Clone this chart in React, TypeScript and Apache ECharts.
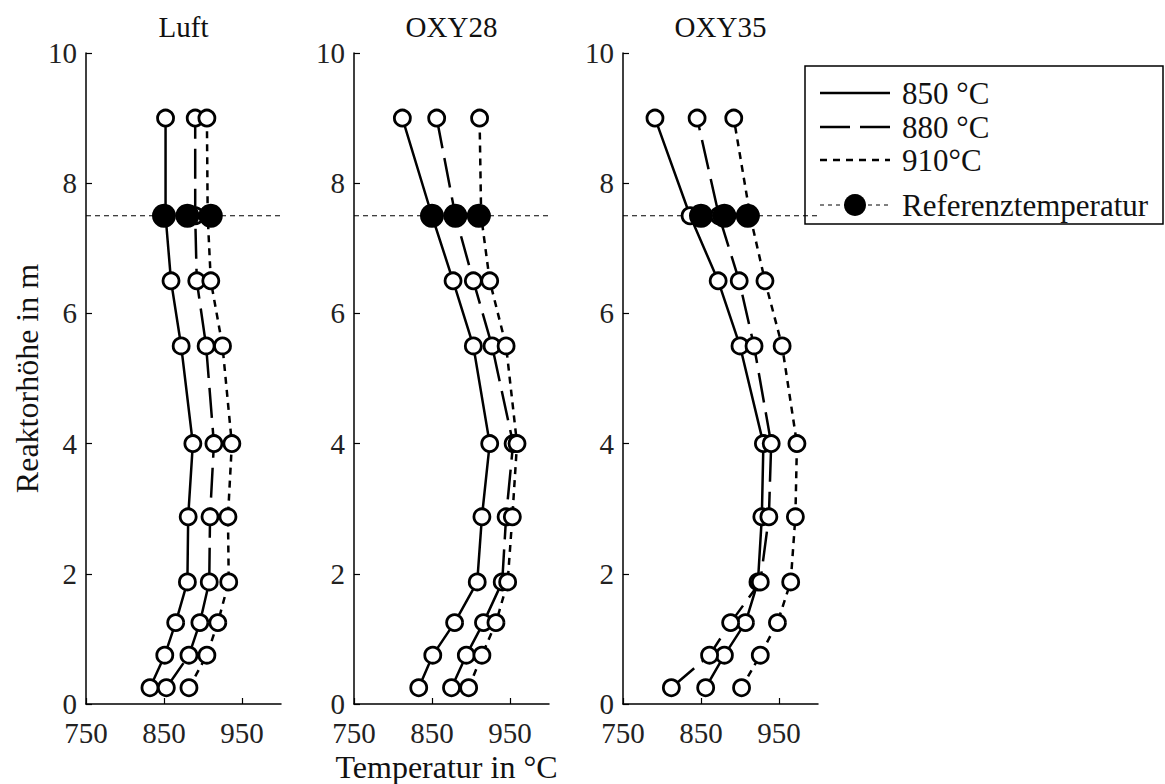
import React, { useEffect, useRef } from "react";
import * as echarts from "echarts";

const heights = [0.25, 0.75, 1.25, 1.875, 2.875, 4, 5.5, 6.5, 7.5, 9];

const panelTitles = ["Luft", "OXY28", "OXY35"];

const luft850 = [832, 851, 865, 880, 881, 887, 872, 859, 852, 852];
const luft880 = [853, 882, 896, 908, 909, 914, 904, 892, 890, 890];
const luft910 = [882, 905, 919, 933, 932, 937, 925, 910, 906, 905];

const oxy28_850 = [833, 851, 879, 908, 914, 924, 903, 877, 850, 812];
const oxy28_880 = [875, 894, 916, 940, 945, 954, 927, 903, 880, 856];
const oxy28_910 = [897, 914, 932, 947, 953, 959, 945, 924, 913, 911];

const oxy35_850 = [856, 880, 907, 923, 928, 930, 900, 872, 836, 791];
const oxy35_880 = [812, 861, 888, 926, 937, 940, 918, 899, 873, 845];
const oxy35_910 = [902, 926, 948, 965, 971, 973, 954, 932, 913, 892];

const refTemps = [850, 880, 910];
const refHeight = 7.5;

const seriesNames = ["850 °C", "880 °C", "910°C"];
const refName = "Referenztemperatur";

const xTickValues = [750, 850, 950];

const panelData = [
  [luft850, luft880, luft910],
  [oxy28_850, oxy28_880, oxy28_910],
  [oxy35_850, oxy35_880, oxy35_910],
];

const FONT = "'Liberation Serif', serif";
const FS = 29;
const FS_NAME = 32;
const FS_LEG = 31;
const lineTypes: any[] = ["solid", [30, 10], [7, 6]];

export default function App() {
  const ref = useRef<HTMLDivElement>(null);
  useEffect(() => {
    if (!ref.current) return;
    const chart = echarts.init(ref.current, null, { renderer: "svg" });
    const lefts = [86, 354, 623];
    const W = 195;
    const top = 53;
    const H = 651;

    const grids = lefts.map((l) => ({ left: l, top, width: W, height: H }));
    const xAxes = lefts.map((_, i) => ({
      type: "value",
      gridIndex: i,
      min: 750,
      max: 1000,
      splitLine: { show: false },
      axisLine: { lineStyle: { color: "#000", width: 1.5 } },
      axisTick: {
        inside: true,
        length: 6,
        customValues: xTickValues,
        lineStyle: { color: "#000", width: 1.2 },
      },
      axisLabel: {
        customValues: xTickValues,
        color: "#222",
        fontFamily: FONT,
        fontSize: FS,
        lineHeight: FS,
        margin: 14,
      },
    }));
    const yAxes = lefts.map((_, i) => ({
      type: "value",
      gridIndex: i,
      min: 0,
      max: 10,
      interval: 2,
      splitLine: { show: false },
      axisLine: { onZero: false, lineStyle: { color: "#000", width: 1.5 } },
      axisTick: { inside: true, length: 6, lineStyle: { color: "#000", width: 1.2 } },
      axisLabel: {
        color: "#222",
        fontFamily: FONT,
        fontSize: FS,
        lineHeight: FS - 4,
        margin: 9,
      },
    }));

    const series: any[] = [];
    panelData.forEach((sets, p) => {
      series.push({
        type: "line",
        xAxisIndex: p,
        yAxisIndex: p,
        data: [
          [750, refHeight],
          [1000, refHeight],
        ],
        showSymbol: false,
        symbol: "none",
        lineStyle: { color: "#000", width: 1, type: [5, 4] },
        z: 1,
        silent: true,
      });
      sets.forEach((vals, k) => {
        series.push({
          type: "line",
          name: seriesNames[k],
          xAxisIndex: p,
          yAxisIndex: p,
          data: vals.map((v, j) => [v, heights[j]]),
          symbol: "circle",
          symbolSize: 16,
          showAllSymbol: true,
          lineStyle: { color: "#000", width: 2.5, type: lineTypes[k] },
          itemStyle: { color: "#fff", borderColor: "#000", borderWidth: 2.8, opacity: 1 },
          z: 3,
        });
      });
      series.push({
        type: "scatter",
        name: refName,
        xAxisIndex: p,
        yAxisIndex: p,
        data: refTemps.map((t) => [t, refHeight]),
        symbol: "circle",
        symbolSize: 24,
        itemStyle: { color: "#000", opacity: 1 },
        z: 5,
      });
    });

    const graphics: any[] = [];
    panelTitles.forEach((t, i) => {
      graphics.push({
        type: "text",
        x: lefts[i] + W / 2,
        y: 27,
        style: {
          text: t,
          font: `${FS}px ${FONT}`,
          fill: "#111",
          textAlign: "center",
          textVerticalAlign: "middle",
        },
      });
    });
    graphics.push({
      type: "text",
      x: 27,
      y: top + H / 2,
      rotation: Math.PI / 2,
      style: {
        text: "Reaktorhöhe in m",
        font: `${FS_NAME}px ${FONT}`,
        fill: "#111",
        textAlign: "center",
        textVerticalAlign: "middle",
      },
    });
    graphics.push({
      type: "text",
      x: lefts[1] + W / 2 - 5,
      y: 767,
      style: {
        text: "Temperatur in °C",
        font: `${FS_NAME}px ${FONT}`,
        fill: "#111",
        textAlign: "center",
        textVerticalAlign: "middle",
      },
    });

    // legend box
    const lx = 805, ly = 66, lw = 358, lh = 158;
    const legendChildren: any[] = [
      {
        type: "rect",
        shape: { x: lx, y: ly, width: lw, height: lh },
        style: { fill: "#fff", stroke: "#000", lineWidth: 1.5 },
      },
    ];
    const rowsY = [93, 127, 160, 205];
    seriesNames.forEach((n, k) => {
      legendChildren.push({
        type: "line",
        shape: { x1: 820, y1: rowsY[k], x2: 890, y2: rowsY[k] },
        style: { stroke: "#000", lineWidth: 2.5, lineDash: k === 0 ? null : lineTypes[k] },
      });
      legendChildren.push({
        type: "text",
        x: 902,
        y: rowsY[k],
        style: {
          text: n,
          font: `${FS_LEG}px ${FONT}`,
          fill: "#111",
          textVerticalAlign: "middle",
        },
      });
    });
    legendChildren.push({
      type: "line",
      shape: { x1: 820, y1: rowsY[3], x2: 890, y2: rowsY[3] },
      style: { stroke: "#000", lineWidth: 1, lineDash: [4, 4] },
    });
    legendChildren.push({
      type: "circle",
      shape: { cx: 855, cy: rowsY[3], r: 11 },
      style: { fill: "#000" },
    });
    legendChildren.push({
      type: "text",
      x: 902,
      y: rowsY[3],
      style: {
        text: refName,
        font: `${FS_LEG}px ${FONT}`,
        fill: "#111",
        textVerticalAlign: "middle",
      },
    });
    graphics.push({ type: "group", z: 100, children: legendChildren });

    chart.setOption({
      animation: false,
      backgroundColor: "#fff",
      grid: grids,
      xAxis: xAxes,
      yAxis: yAxes,
      series,
      graphic: graphics,
    });
    return () => chart.dispose();
  }, []);
  return (
    <div
      ref={ref}
      style={{ position: "fixed", left: 0, top: 0, width: 1165, height: 784 }}
    />
  );
}
